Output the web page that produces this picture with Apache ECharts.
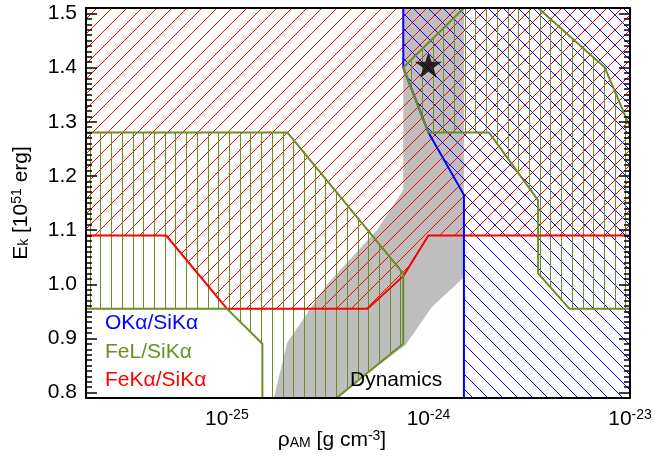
<!DOCTYPE html>
<html><head><meta charset="utf-8">
<script src="https://cdn.jsdelivr.net/npm/echarts@6/dist/echarts.min.js"></script>
<style>html,body{margin:0;padding:0;background:#fff}#c{width:655px;height:462px}</style>
</head><body><div id="c"></div>
<script>
// ---------- data ----------
const xMin = 2e-26, xMax = 1e-23;
const yMin = 0.79, yMax = 1.51;
const xMajorTicks = [1e-25, 1e-24, 1e-23];
const xTickLabels = ['-25', '-24', '-23'];   // exponents of 10 shown at xMajorTicks
const yMajorTicks = [0.8, 0.9, 1.0, 1.1, 1.2, 1.3, 1.4, 1.5];

// FeKα/SiKα allowed region (above boundary)
const feKaBoundary = [[2e-26,1.09],[5e-26,1.09],[1e-25,0.955],[5e-25,0.955],[7.5e-25,1.015],[1e-24,1.09],[1e-23,1.09]];
const feKaRegion = [[2e-26,1.51],[1e-23,1.51],[1e-23,1.09],[1e-24,1.09],[7.5e-25,1.015],[5e-25,0.955],[1e-25,0.955],[5e-26,1.09],[2e-26,1.09]];
// OKα/SiKα allowed region
const oKaBoundary = [[7.5e-25,1.51],[7.5e-25,1.40],[1e-24,1.28],[1.5e-24,1.165],[1.5e-24,0.79]];
const oKaRegion = [[7.5e-25,1.51],[1e-23,1.51],[1e-23,0.79],[1.5e-24,0.79],[1.5e-24,1.165],[1e-24,1.28],[7.5e-25,1.40]];
// FeL/SiKα allowed regions
const feLRegionLow = [[2e-26,1.28],[2e-25,1.28],[7.5e-25,1.02],[7.5e-25,0.89],[3.5e-25,0.79],[1.5e-25,0.79],[1.5e-25,0.89],[1e-25,0.955],[2e-26,0.955]];
const feLRegionHigh = [[7.5e-25,1.40],[1.5e-24,1.51],[3.5e-24,1.51],[7.5e-24,1.40],[1e-23,1.29],[1e-23,0.955],[5e-24,0.955],[3.5e-24,1.02],[3.5e-24,1.155],[2e-24,1.28],[1e-24,1.28]];
// Dynamics constraint band
const dynamicsBand = [[7.5e-25,1.51],[1.5e-24,1.51],[1.5e-24,1.013],[1.04e-24,0.958],[7.7e-25,0.888],[5.1e-25,0.838],[3.55e-25,0.79],[1.71e-25,0.79],[1.99e-25,0.892],[3.14e-25,1.0],[5.56e-25,1.10],[7.5e-25,1.174]];
// best-fit star
const starPoint = [[1e-24, 1.405]];

const legendLabels = ['OKα/SiKα', 'FeL/SiKα', 'FeKα/SiKα'];
const dynamicsLabel = 'Dynamics';

// minor ticks
const xMinorTicks = [];
for (let d = -26; d <= -24; d++) for (let m = 2; m <= 9; m++) { const v = m * Math.pow(10, d); if (v >= xMin && v <= xMax) xMinorTicks.push(v); }
const yMinorTicks = [];
for (let k = 79; k <= 151; k++) if (k % 10 !== 0) yMinorTicks.push(k / 100);

// ---------- styles ----------
const FONT = "'Liberation Sans', Arial, Helvetica, sans-serif";
const RED = '#ff0000', BLUE = '#0000ff', GREEN = '#6b8e23', GRAY = '#bebebe';

function diagPattern(color, P, dir) {
  const c = document.createElement('canvas'); c.width = P; c.height = P;
  const g = c.getContext('2d'); g.strokeStyle = color; g.lineWidth = 1;
  g.beginPath();
  if (dir === '/') { g.moveTo(0,P); g.lineTo(P,0); g.moveTo(-1,1); g.lineTo(1,-1); g.moveTo(P-1,P+1); g.lineTo(P+1,P-1); }
  else { g.moveTo(0,0); g.lineTo(P,P); g.moveTo(-1,P-1); g.lineTo(1,P+1); g.moveTo(P-1,-1); g.lineTo(P+1,1); }
  g.stroke();
  return c;
}
function vertPattern(color) {
  const c = document.createElement('canvas'); c.width = 75; c.height = 4;
  const g = c.getContext('2d'); g.fillStyle = color;
  [0,11,21,32,43,54,64].forEach(x => g.fillRect(x, 0, 1, 4));
  return c;
}
const redHatch = {image: diagPattern(RED, 15, '/'), repeat: 'repeat'};
const blueHatch = {image: diagPattern(BLUE, 15, '\\'), repeat: 'repeat'};
const greenHatch = {image: vertPattern(GREEN), repeat: 'repeat', x: 4};

function polygonSeries(points, style, z) {
  return {
    type: 'custom', coordinateSystem: 'cartesian2d', xAxisIndex: 0, yAxisIndex: 0,
    z: z, clip: true, silent: true, data: points,
    renderItem: function (params, api) {
      if (params.dataIndex !== 0) return null;
      return { type: 'polygon', shape: { points: points.map(p => api.coord(p)) }, style: style };
    }
  };
}
function lineSeries(points, color, z) {
  return { type: 'line', xAxisIndex: 0, yAxisIndex: 0, data: points, showSymbol: false, symbol: 'none',
    clip: true, silent: true, z: z, lineStyle: { color: color, width: 2 } };
}

const supRich = {
  b: { fontSize: 21, fontFamily: FONT, color: '#000' },
  s: { fontSize: 14, fontFamily: FONT, color: '#000', padding: [0, 0, 9, 0] }
};
function xLabelFormatter(v) {
  const e = Math.log10(v);
  for (let i = 0; i < xMajorTicks.length; i++) {
    if (Math.abs(e - Math.log10(xMajorTicks[i])) < 1e-6) return '{b|10}{s|' + xTickLabels[i] + '}';
  }
  return '';
}
function xAx(pos, ticks, len, showLine, showLabel) {
  return {
    type: 'log', logBase: 10, min: xMin, max: xMax, position: pos, z: 10, gridIndex: 0,
    axisLine: { show: showLine, onZero: false, lineStyle: { color: '#000', width: 2 } },
    axisTick: { show: true, inside: true, length: len, customValues: ticks, lineStyle: { color: '#000', width: 1.5 } },
    axisLabel: showLabel ? { show: true, margin: 10, hideOverlap: false,
      formatter: xLabelFormatter, rich: supRich } : { show: false },
    splitLine: { show: false }, minorTick: { show: false }
  };
}
function yAx(pos, ticks, len, showLine, showLabel) {
  return {
    type: 'value', min: yMin, max: yMax, position: pos, z: 10, gridIndex: 0,
    axisLine: { show: showLine, onZero: false, lineStyle: { color: '#000', width: 2 } },
    axisTick: { show: true, inside: true, length: len, customValues: ticks, lineStyle: { color: '#000', width: 1.5 } },
    axisLabel: showLabel ? { show: true, customValues: ticks, margin: 9, color: '#000', fontSize: 21, fontFamily: FONT,
      formatter: v => v.toFixed(1) } : { show: false },
    splitLine: { show: false }, minorTick: { show: false }
  };
}

const titleRich = {
  m: { fontSize: 21, fontFamily: FONT, color: '#000', padding: [0, 0, 5, 0] },
  sub: { fontSize: 14, fontFamily: FONT, color: '#000' },
  sup: { fontSize: 14, fontFamily: FONT, color: '#000', padding: [0, 0, 14, 0] }
};

const option = {
  animation: false,
  backgroundColor: '#fff',
  grid: { left: 86, right: 25, top: 8, bottom: 64, containLabel: false, outerBoundsMode: 'none' },
  xAxis: [
    xAx('bottom', xMajorTicks, 11, true, true),
    xAx('bottom', xMinorTicks, 6, false, false),
    xAx('top', xMajorTicks, 11, true, false),
    xAx('top', xMinorTicks, 6, false, false)
  ],
  yAxis: [
    yAx('left', yMajorTicks, 11, true, true),
    yAx('left', yMinorTicks, 6, false, false),
    yAx('right', yMajorTicks, 11, true, false),
    yAx('right', yMinorTicks, 6, false, false)
  ],
  series: [
    polygonSeries(dynamicsBand, { fill: GRAY, stroke: 'none' }, 1),
    polygonSeries(feKaRegion, { fill: redHatch, stroke: 'none' }, 2),
    polygonSeries(oKaRegion, { fill: blueHatch, stroke: 'none' }, 3),
    polygonSeries(feLRegionLow, { fill: greenHatch, stroke: 'none' }, 4),
    polygonSeries(feLRegionHigh, { fill: greenHatch, stroke: 'none' }, 4),
    lineSeries(feKaBoundary, RED, 5),
    lineSeries(oKaBoundary, BLUE, 5),
    lineSeries(feLRegionLow.concat([feLRegionLow[0]]), GREEN, 6),
    lineSeries(feLRegionHigh.concat([feLRegionHigh[0]]), GREEN, 6),
    { type: 'scatter', xAxisIndex: 0, yAxisIndex: 0, z: 8, data: starPoint, silent: true,
      symbol: 'path://M50,0 L61.8,36.3 L100,36.3 L69.1,58.8 L80.9,95.1 L50,72.7 L19.1,95.1 L30.9,58.8 L0,36.3 L38.2,36.3 Z',
      symbolSize: [27, 26], itemStyle: { color: '#000' } }
  ],
  graphic: [
    { type: 'text', left: 105, top: 313, z: 20, style: { text: legendLabels[0], fill: BLUE, font: '21px ' + FONT } },
    { type: 'text', left: 105, top: 342, z: 20, style: { text: legendLabels[1], fill: GREEN, font: '21px ' + FONT } },
    { type: 'text', left: 105, top: 370, z: 20, style: { text: legendLabels[2], fill: RED, font: '21px ' + FONT } },
    { type: 'text', left: 350, top: 370, z: 20, style: { text: dynamicsLabel, fill: '#000', font: '21px ' + FONT } },
    { type: 'text', x: 332, y: 443, z: 20, style: { text: '{m|ρ}{sub|AM}{m| [g cm}{sup|-3}{m|]}', rich: titleRich, align: 'center', verticalAlign: 'middle' } },
    { type: 'text', x: 24, y: 203, rotation: Math.PI / 2, z: 20, style: { text: '{m|E}{sub|k}{m| [10}{sup|51}{m| erg]}', rich: titleRich, align: 'center', verticalAlign: 'middle' } }
  ]
};
const chart = echarts.init(document.getElementById('c'), null, { renderer: 'canvas' });
chart.setOption(option);
</script>
</body></html>
